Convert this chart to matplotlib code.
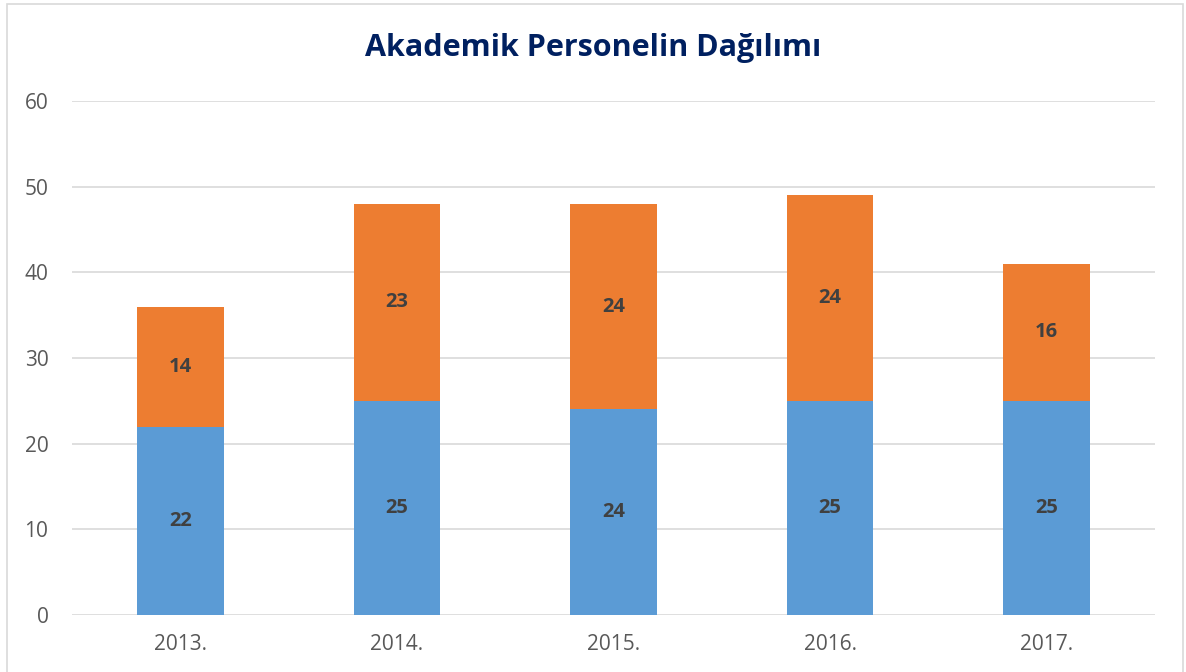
import matplotlib.pyplot as plt
from matplotlib.patches import Rectangle

years = ["2013.", "2014.", "2015.", "2016.", "2017."]
lower = [22, 25, 24, 25, 25]
upper = [14, 23, 24, 24, 16]

blue = '#5B9BD5'
orange = '#ED7D31'

plt.rcParams['font.family'] = ['Open Sans', 'DejaVu Sans']

fig = plt.figure(figsize=(11.86, 6.72), dpi=100)
ax = fig.add_axes([72 / 1186, 1 - 615 / 672, (1155 - 72) / 1186, (615 - 101) / 672])

x = range(len(years))
ax.bar(x, lower, width=0.4, color=blue, zorder=3)
ax.bar(x, upper, width=0.4, bottom=lower, color=orange, zorder=3)

for i in x:
    ax.text(i, lower[i] / 2, str(lower[i]), ha='center', va='center',
            fontsize=14.5, fontweight='bold', color='#404040', zorder=4)
    ax.text(i, lower[i] + upper[i] / 2, str(upper[i]), ha='center', va='center',
            fontsize=14.5, fontweight='bold', color='#404040', zorder=4)

ax.set_xlim(-0.5, len(years) - 0.5)
ax.set_ylim(0, 60)
ax.set_yticks(range(0, 61, 10))
ax.set_xticks(list(x))
ax.set_xticklabels(years)
ax.yaxis.grid(True, color='#D9D9D9', lw=1.2, zorder=0)
ax.tick_params(length=0, labelsize=15, labelcolor='#595959')
ax.tick_params(axis='y', pad=17)
ax.tick_params(axis='x', pad=14)
for s in ax.spines.values():
    s.set_visible(False)

fig.text(0.5, 1 - 48 / 672, 'Akademik Personelin Dağılımı', ha='center', va='center',
         fontsize=22, fontweight='bold', color='#002060')

fig.patches.append(Rectangle((7 / 1186, -0.01), 1176 / 1186, 1 - 3.5 / 672 + 0.01,
                             transform=fig.transFigure, fill=False,
                             edgecolor='#D9D9D9', lw=1.2))

plt.savefig('out.png', dpi=100)
